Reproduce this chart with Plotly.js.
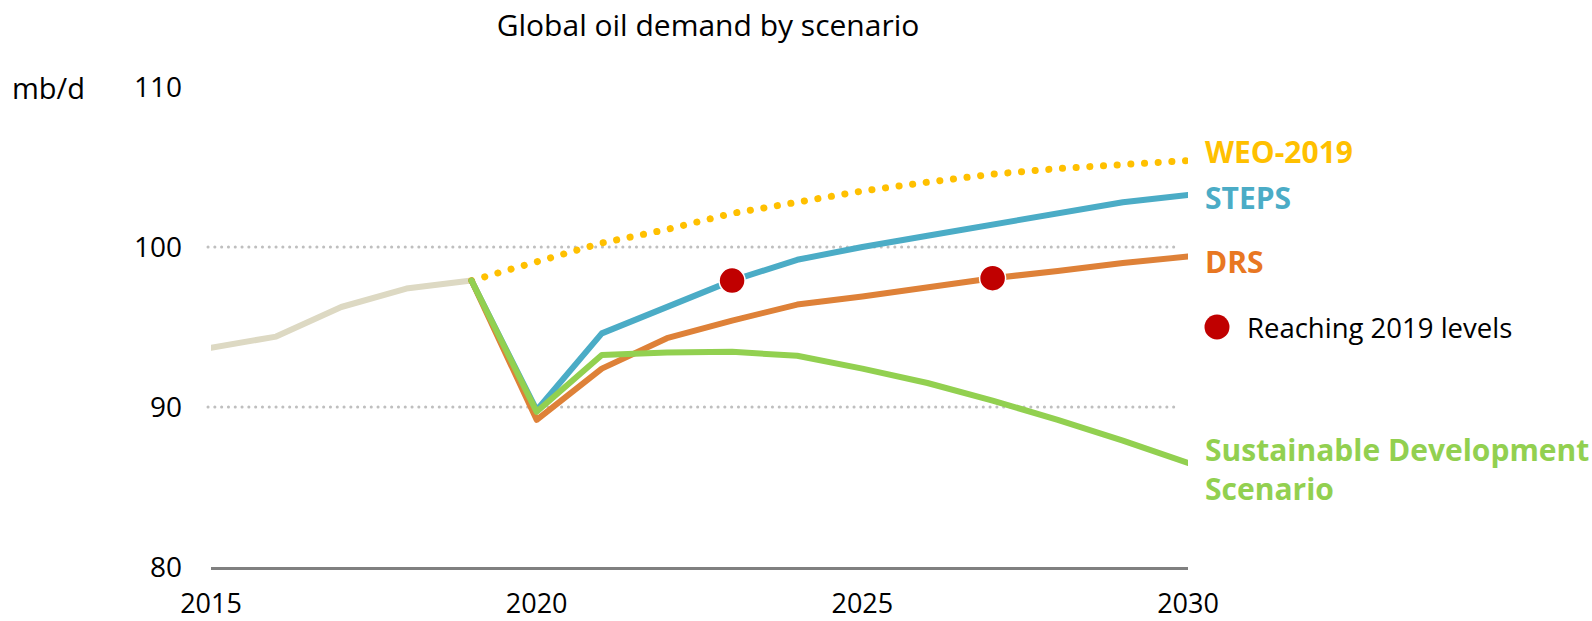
<!DOCTYPE html>
<html>
<head>
<meta charset="utf-8">
<script src="https://cdn.plot.ly/plotly-3.0.1.min.js"></script>
<style>
  html, body { margin: 0; padding: 0; background: #fff; }
  #chart { width: 1592px; height: 621px; }
  .scatterlayer .js-line { stroke-linecap: round !important; stroke-linejoin: round !important; }
  .shapelayer path { stroke-linecap: round !important; }
</style>
</head>
<body>
<div id="chart"></div>
<script>
// ---- data (mb/d) ----
const histYears = [2015, 2016, 2017, 2018, 2019];
const histValues = [93.7, 94.4, 96.25, 97.4, 97.9];

const projYears = [2019, 2020, 2021, 2022, 2023, 2024, 2025, 2026, 2027, 2028, 2029, 2030];
const weo2019 = [97.9, 99.05, 100.25, 101.1, 102.1, 102.8, 103.5, 104.05, 104.55, 104.9, 105.2, 105.4];
const steps   = [97.9, 89.8, 94.6, 96.3, 97.9, 99.2, 100.0, 100.7, 101.4, 102.1, 102.8, 103.25];
const drs     = [97.9, 89.2, 92.4, 94.3, 95.4, 96.4, 96.9, 97.45, 98.05, 98.5, 99.0, 99.4];
const sds     = [97.9, 89.7, 93.25, 93.4, 93.45, 93.2, 92.4, 91.5, 90.4, 89.2, 87.9, 86.5];

const reachYears = [2023, 2027];
const reachValues = [97.9, 98.05];

const xTicks = [2015, 2020, 2025, 2030];
const yTicks = [80, 90, 100, 110];
const gridValues = [90, 100];

const seriesLabels = [
  {text: "WEO-2019", y: 105.95, color: "#FFC000"},
  {text: "STEPS", y: 103.1, color: "#4BACC6"},
  {text: "DRS", y: 99.1, color: "#E87722"},
  {text: "Sustainable Development<br>Scenario", y: 86.15, color: "#92D050"}
];

const FONT = "Open Sans, Noto Sans, sans-serif";

const traces = [
  {x: histYears, y: histValues, mode: "lines", line: {color: "#DDD9C3", width: 6}, hoverinfo: "skip"},
  {x: projYears, y: weo2019, mode: "lines", line: {color: "#FFC000", width: 7, dash: "0.1px,13.6px"}},
  {x: projYears, y: steps, mode: "lines", line: {color: "#4BACC6", width: 6}},
  {x: projYears, y: drs, mode: "lines", line: {color: "#DE8138", width: 6}},
  {x: projYears, y: sds, mode: "lines", line: {color: "#92D050", width: 6}},
  {x: reachYears, y: reachValues, mode: "markers",
   marker: {color: "#C00000", size: 26, line: {color: "#FFFFFF", width: 1.5}}}
];

const plotL = 211, plotR = 1188, plotT = 87, plotB = 567;
const pw = plotR - plotL;

const shapes = gridValues.map(v => ({
  type: "line", xref: "paper", yref: "y",
  x0: (208 - plotL) / pw, x1: (1177 - plotL) / pw, y0: v, y1: v,
  line: {color: "#BFBFBF", width: 3, dash: "0.1px,6.7px"}, layer: "below"
}));
// legend key dot for "Reaching 2019 levels"
shapes.push({
  type: "circle", xref: "paper", yref: "y", xsizemode: "pixel", ysizemode: "pixel",
  xanchor: (1217 - plotL) / pw, yanchor: 95.0,
  x0: -12.5, x1: 12.5, y0: -12.5, y1: 12.5,
  fillcolor: "#C00000", line: {width: 0}
});

const annotations = seriesLabels.map(s => ({
  text: "<b>" + s.text + "</b>", xref: "paper", yref: "y",
  x: (1203 - plotL) / pw, y: s.y, xanchor: "left", yanchor: "middle", align: "left",
  showarrow: false, font: {family: FONT, size: 30, color: s.color}
}));
annotations.push({
  text: "Reaching 2019 levels", xref: "paper", yref: "y",
  x: (1245 - plotL) / pw, y: 95.0, xanchor: "left", yanchor: "middle",
  showarrow: false, font: {family: FONT, size: 27.5, color: "#000"}
});
annotations.push({
  text: "mb/d", xref: "paper", yref: "y",
  x: (10 - plotL) / pw, y: 110, xanchor: "left", yanchor: "middle",
  showarrow: false, font: {family: FONT, size: 29, color: "#000"}
});

const layout = {
  width: 1592, height: 621,
  margin: {l: plotL, r: 1592 - plotR, t: plotT, b: 621 - plotB, pad: 0},
  paper_bgcolor: "#fff", plot_bgcolor: "#fff",
  showlegend: false,
  title: {text: "Global oil demand by scenario", xref: "container", yref: "container",
          x: 708 / 1592, y: 1 - 25 / 621, xanchor: "center", yanchor: "middle",
          font: {family: FONT, size: 30, color: "#000"}},
  xaxis: {range: [2015, 2030], tickvals: xTicks, ticktext: xTicks.map(String),
          showgrid: false, zeroline: false, showline: true, linecolor: "#808080", linewidth: 2.5,
          ticks: "", ticklabelstandoff: 11, tickfont: {family: FONT, size: 27, color: "#000"}},
  yaxis: {range: [80, 110], tickvals: yTicks, ticktext: yTicks.map(String),
          showgrid: false, zeroline: false, showline: false,
          ticks: "", ticklabelstandoff: 28, tickfont: {family: FONT, size: 28, color: "#000"}},
  shapes: shapes,
  annotations: annotations
};

Plotly.newPlot("chart", traces, layout, {staticPlot: true, displayModeBar: false});
</script>
</body>
</html>
